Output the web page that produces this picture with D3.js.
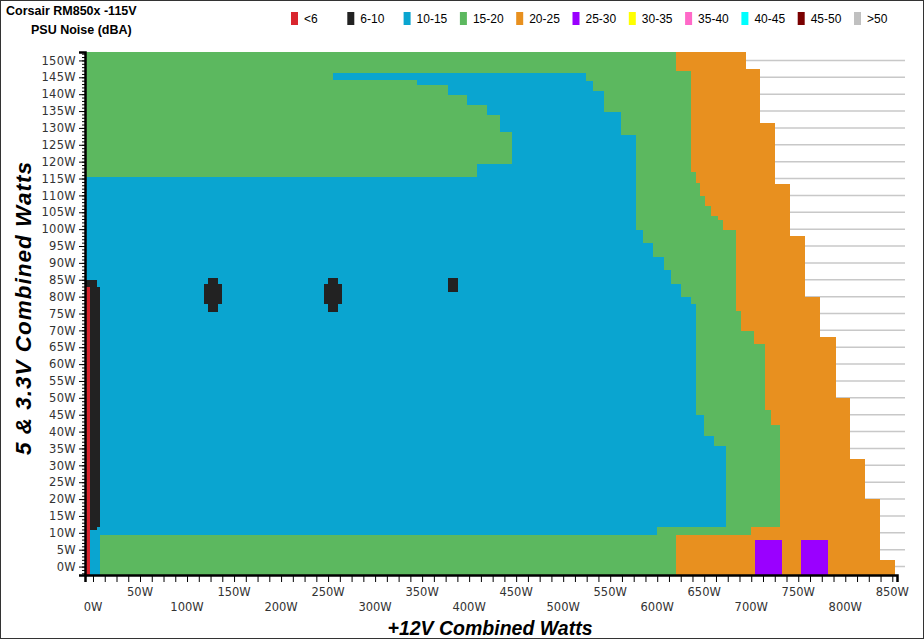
<!DOCTYPE html>
<html>
<head>
<meta charset="utf-8">
<script src="https://cdn.jsdelivr.net/npm/d3@7"></script>
<style>
  body { margin: 0; background: #fff; }
</style>
</head>
<body>
<svg id="chart" width="924" height="639" font-family="DejaVu Sans, Verdana, sans-serif"></svg>
<script>
// legend categories and colours
const categories = ["<6", "6-10", "10-15", "15-20", "20-25", "25-30", "30-35", "35-40", "40-45", "45-50", ">50"];
const catColors = ["#d9262e", "#222222", "#0aa5d0", "#5cb85f", "#e8901f", "#9a00ff", "#ffff00", "#ff69c8", "#00ffff", "#7a0000", "#c0c0c0"];

// boundaries as step lists: [5&3.3V watts from which it applies, +12V watts]
const redEnd = [[-2.5, -3], [83, -8.5]];
const blackEnd = [[-2.5, -3], [11, 4.3], [12, 7.5], [83, 4.3], [85, -8.5]];
const blueStart = [[-2.5, -3], [11, 4.3], [12, 7.5], [83, 4.3], [85, -8.5], [115.3, 408.7], [119.7, 446], [129, 433],
  [134, 419], [137, 398], [140, 377], [143, 345], [144.5, 255], [146.7, 9999]];
const blueEnd = [[-2.5, 7.5], [9.5, 600], [12, 672.7], [36, 660], [39, 650], [45, 641], [78, 636], [80, 625], [84, 615],
  [88, 607], [92, 595], [96, 585], [100, 577], [128, 561], [135, 543], [141, 532], [144, 524]];
const greenEnd = [[-2.5, 620], [9.5, 700], [12, 731], [42, 720.6], [46.5, 715], [66, 702.5], [70, 688.7], [76, 683.4],
  [100, 670], [103, 665], [104, 656.7], [107, 651], [110, 646], [114, 640.8], [117, 635.6], [147, 620.5]];
const orangeEnd = [[-2.5, 852.6], [1.8, 836.6], [20.2, 820.6], [32, 804.7], [50.1, 789.8], [68.2, 772.8], [80, 756.8],
  [98.1, 740.8], [113.3, 724.9], [131.3, 708.9], [147.3, 694]];

// extra blocks: [x0, x1, y0, y1, category index]
const blocks = [
  [703.6, 733, -2.5, 8, 5], [752.6, 781.3, -2.5, 8, 5],
  [122, 133, 75.6, 85.4, 1], [118, 137, 78, 83.6, 1],
  [250, 261, 75.6, 85.4, 1], [246, 265, 78, 83.6, 1],
  [377, 388, 81.5, 85.4, 1]
];

const yTicks = d3.range(0, 151, 5);
const xTicks = d3.range(0, 851, 50);

const svg = d3.select("#chart");
const x = d3.scaleLinear().domain([-8.5, 855]).range([85, 897]);
const y = d3.scaleLinear().domain([-2.5, 152.5]).range([575, 52]);
const arial = "'Liberation Sans', Arial, sans-serif";

function stepAt(list, v) {
  let val = list[0][1];
  for (const [v0, xv] of list) if (v >= v0) val = xv;
  return val;
}

// grid
svg.append("g").selectAll("line").data(yTicks).join("line")
  .attr("x1", 85).attr("x2", 905)
  .attr("y1", d => y(d)).attr("y2", d => y(d))
  .attr("stroke", "#c8c8c8").attr("stroke-width", 1.5);

// heat map slices
const step = 0.5;
const slices = d3.range(-2.5, 152.5, step);
const rects = [];
slices.forEach(v => {
  const c = v + step / 2;
  const ge = stepAt(greenEnd, c);
  const re = stepAt(redEnd, c);
  const be = stepAt(blackEnd, c);
  const bs = Math.min(stepAt(blueStart, c), ge);
  const bl = Math.max(stepAt(blueEnd, c), bs);
  const segs = [[-8.5, re, 0], [re, be, 1], [be, bs, 3], [bs, bl, 2], [bl, ge, 3], [ge, stepAt(orangeEnd, c), 4]];
  segs.forEach(s => { if (s[1] > s[0]) rects.push({ x0: s[0], x1: s[1], y0: v, y1: v + step, cat: s[2] }); });
});
blocks.forEach(b => rects.push({ x0: b[0], x1: b[1], y0: b[2], y1: b[3], cat: b[4] }));

svg.append("g").attr("shape-rendering", "crispEdges").selectAll("rect").data(rects).join("rect")
  .attr("x", d => x(d.x0)).attr("width", d => x(d.x1) - x(d.x0))
  .attr("y", d => y(d.y1)).attr("height", d => y(d.y0) - y(d.y1) + 0.6)
  .attr("fill", d => catColors[d.cat]);

// y axis
const yAxis = svg.append("g").attr("transform", "translate(85,0)")
  .call(d3.axisLeft(y).tickValues(yTicks).tickFormat(d => d + "W").tickSize(6));
svg.append("g").attr("transform", "translate(85,0)")
  .call(d3.axisLeft(y).tickValues(d3.range(-2, 153, 1)).tickFormat("").tickSize(3))
  .call(g => g.select(".domain").remove());
yAxis.select(".domain").attr("stroke-width", 2.5);
yAxis.selectAll("text").style("font-family", "DejaVu Sans").style("font-size", "11.5px")
  .attr("fill", "#333").attr("x", -9).attr("letter-spacing", 0.3);

// x axis
const xAxis = svg.append("g").attr("transform", "translate(0,575)")
  .call(d3.axisBottom(x).tickValues(d3.range(0, 851, 12.5)).tickFormat("").tickSize(7));
xAxis.select(".domain").attr("stroke-width", 2.5);
svg.append("g").selectAll("text").data(xTicks).join("text")
  .attr("x", d => x(d)).attr("y", (d, i) => i % 2 ? 596 : 611)
  .attr("text-anchor", "middle").attr("font-size", 11.5).attr("fill", "#333")
  .text(d => d + "W");

// axis titles
svg.append("text").attr("x", 490).attr("y", 635).attr("text-anchor", "middle")
  .style("font-family", arial).attr("font-size", 19.5).attr("font-weight", "bold")
  .attr("font-style", "italic").text("+12V Combined Watts");
svg.append("text").attr("transform", "translate(31,308) rotate(-90)").attr("text-anchor", "middle")
  .style("font-family", arial).attr("font-size", 22.5).attr("font-weight", "bold")
  .attr("font-style", "italic").attr("letter-spacing", 1).text("5 & 3.3V Combined Watts");

// titles
svg.append("text").attr("x", 6).attr("y", 15).style("font-family", arial)
  .attr("font-size", 12.5).attr("font-weight", "bold").text("Corsair RM850x -115V");
svg.append("text").attr("x", 31).attr("y", 34).style("font-family", arial)
  .attr("font-size", 12.5).attr("font-weight", "bold").text("PSU Noise (dBA)");

// legend
const lg = svg.append("g").selectAll("g").data(categories).join("g")
  .attr("transform", (d, i) => `translate(${291 + i * 56.3},12)`);
lg.append("rect").attr("width", 7).attr("height", 13).attr("fill", (d, i) => catColors[i]);
lg.append("text").attr("x", 13).attr("y", 11).style("font-family", arial)
  .attr("font-size", 12).text(d => d);

// frame
svg.append("rect").attr("x", 0.5).attr("y", 0.5).attr("width", 923).attr("height", 638)
  .attr("fill", "none").attr("stroke", "#333");
</script>
</body>
</html>
